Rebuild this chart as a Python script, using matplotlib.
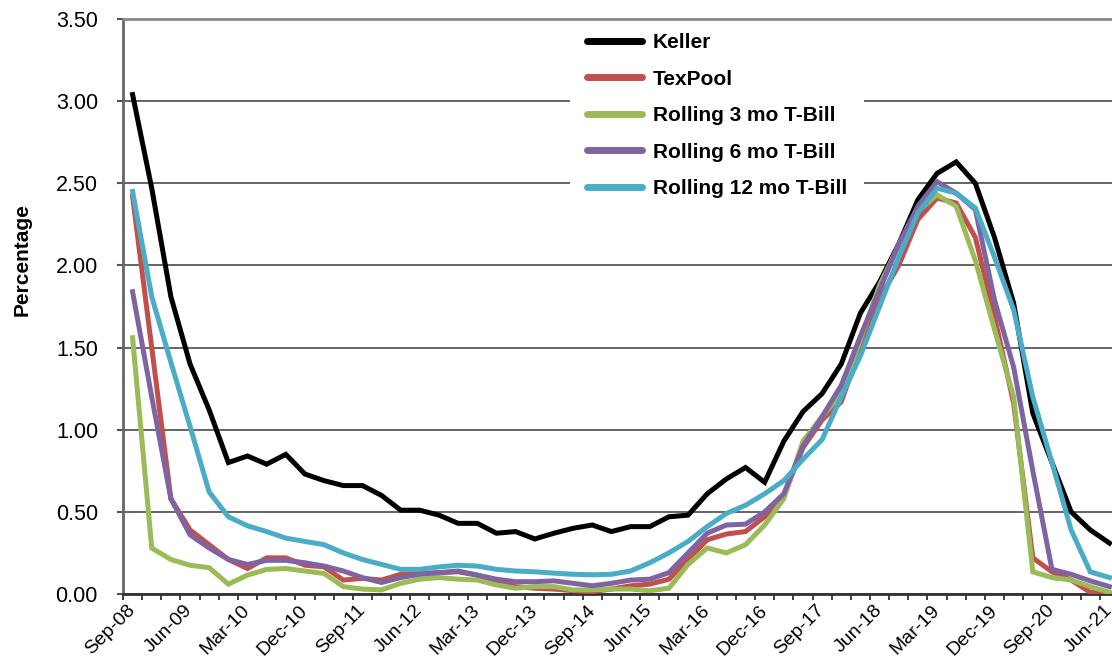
import matplotlib
matplotlib.use('Agg')
from matplotlib import pyplot as plt
from matplotlib.ticker import FixedLocator, FormatStrFormatter

plt.rcParams['font.family'] = ['Liberation Sans', 'DejaVu Sans']

# quarterly, Sep-08 .. Jun-21
quarters = []
mons = ['Mar', 'Jun', 'Sep', 'Dec']
for y in range(8, 22):
    for m in mons:
        quarters.append('%s-%02d' % (m, y))
quarters = quarters[quarters.index('Sep-08'):quarters.index('Jun-21') + 1]

keller = [3.04, 2.47, 1.81, 1.40, 1.12, 0.80, 0.84, 0.79, 0.85, 0.73, 0.69, 0.66, 0.66,
          0.60, 0.51, 0.51, 0.48, 0.43, 0.43, 0.37, 0.38, 0.335, 0.37, 0.40, 0.42, 0.38,
          0.41, 0.41, 0.47, 0.48, 0.61, 0.70, 0.77, 0.68, 0.93, 1.11, 1.22, 1.40, 1.71,
          1.90, 2.13, 2.40, 2.56, 2.63, 2.50, 2.17, 1.77, 1.10, 0.80, 0.50, 0.39, 0.31]
texpool = [2.42, 1.50, 0.58, 0.39, 0.30, 0.21, 0.155, 0.22, 0.22, 0.175, 0.165, 0.085, 0.095,
           0.085, 0.12, 0.125, 0.13, 0.135, 0.115, 0.075, 0.045, 0.035, 0.03, 0.02, 0.015, 0.03,
           0.05, 0.06, 0.09, 0.21, 0.33, 0.365, 0.38, 0.47, 0.60, 0.89, 1.06, 1.17, 1.50,
           1.80, 2.00, 2.28, 2.41, 2.38, 2.17, 1.69, 1.16, 0.22, 0.135, 0.085, 0.01, 0.005]
tbill3 = [1.56, 0.28, 0.21, 0.175, 0.16, 0.06, 0.115, 0.15, 0.155, 0.14, 0.125, 0.045, 0.03,
          0.025, 0.065, 0.09, 0.10, 0.09, 0.085, 0.055, 0.035, 0.045, 0.045, 0.025, 0.025, 0.03,
          0.03, 0.02, 0.035, 0.18, 0.28, 0.25, 0.30, 0.42, 0.58, 0.93, 1.08, 1.22, 1.55,
          1.88, 2.12, 2.33, 2.43, 2.36, 2.03, 1.61, 1.20, 0.135, 0.10, 0.085, 0.045, 0.01]
tbill6 = [1.84, 1.20, 0.58, 0.36, 0.28, 0.21, 0.18, 0.205, 0.205, 0.19, 0.17, 0.14, 0.10,
          0.07, 0.10, 0.12, 0.13, 0.14, 0.115, 0.09, 0.075, 0.075, 0.08, 0.065, 0.05, 0.065,
          0.085, 0.09, 0.13, 0.25, 0.37, 0.42, 0.425, 0.50, 0.61, 0.90, 1.08, 1.27, 1.57,
          1.85, 2.13, 2.36, 2.51, 2.44, 2.34, 1.79, 1.38, 0.75, 0.15, 0.12, 0.08, 0.045]
tbill12 = [2.45, 1.81, 1.41, 1.02, 0.62, 0.47, 0.415, 0.38, 0.34, 0.32, 0.30, 0.25, 0.21,
           0.18, 0.15, 0.15, 0.165, 0.175, 0.17, 0.15, 0.14, 0.135, 0.127, 0.12, 0.117, 0.12,
           0.14, 0.19, 0.25, 0.32, 0.41, 0.49, 0.54, 0.61, 0.69, 0.82, 0.94, 1.20, 1.45,
           1.75, 2.05, 2.32, 2.47, 2.44, 2.35, 2.05, 1.73, 1.20, 0.80, 0.39, 0.135, 0.10]

series = [('Keller', keller, '#000000'),
          ('TexPool', texpool, '#C0504D'),
          ('Rolling 3 mo T-Bill', tbill3, '#9BBB59'),
          ('Rolling 6 mo T-Bill', tbill6, '#8064A2'),
          ('Rolling 12 mo T-Bill', tbill12, '#4BACC6')]

fig = plt.figure(figsize=(11.12, 6.62), dpi=100)
ax = fig.add_axes([123 / 1112., 1 - 594 / 662., 996 / 1112., 575 / 662.])

x = list(range(len(quarters)))
for lab, vals, col in series:
    ax.plot(x, vals, color=col, lw=3.6, label=lab, solid_joinstyle='miter', zorder=3)

ax.set_xlim(-0.5, len(quarters) - 0.5)
ax.set_ylim(0, 3.5)

ax.yaxis.set_major_locator(FixedLocator([i * 0.5 for i in range(8)]))
ax.yaxis.set_major_formatter(FormatStrFormatter('%.2f'))
ax.yaxis.grid(True, color='#4a4a4a', lw=1.2, zorder=1)
ax.tick_params(axis='y', labelsize=15.5, length=4.5, width=1.5, color='#555555', pad=13.5)

ax.set_xticks(x[::3])
ax.set_xticklabels(quarters[::3], rotation=45, ha='right', va='center',
                   rotation_mode='anchor', fontsize=14)
ax.set_xticks([i - 0.5 for i in x], minor=True)
ax.tick_params(axis='x', which='major', length=0, pad=10)
ax.tick_params(axis='x', which='minor', length=4.5, width=1.3, color='#333333')

ax.spines['right'].set_visible(False)
ax.spines['top'].set_color('#888888')
ax.spines['top'].set_linewidth(2)
ax.spines['top'].set_zorder(6)
ax.spines['left'].set_color('#666666')
ax.spines['left'].set_linewidth(2)
ax.spines['bottom'].set_color('#333333')
ax.spines['bottom'].set_linewidth(2)

leg = ax.legend(loc='upper left', bbox_to_anchor=(560 / 1112., 1 - 6 / 662.),
                bbox_transform=fig.transFigure, frameon=True, fancybox=False,
                edgecolor='none', facecolor='white', framealpha=1,
                prop={'weight': 'bold', 'size': 15}, handlelength=2.65,
                labelspacing=0.84, borderpad=0.8, handletextpad=0.5)
for l in leg.get_lines():
    l.set_linewidth(5)
    l.set_solid_capstyle('round')
leg.set_zorder(5)

fig.text(22 / 1112., 1 - 260 / 662., 'Percentage', rotation=90, ha='center', va='center',
         fontsize=15, fontweight='bold')

fig.savefig('out.png', dpi=100)
